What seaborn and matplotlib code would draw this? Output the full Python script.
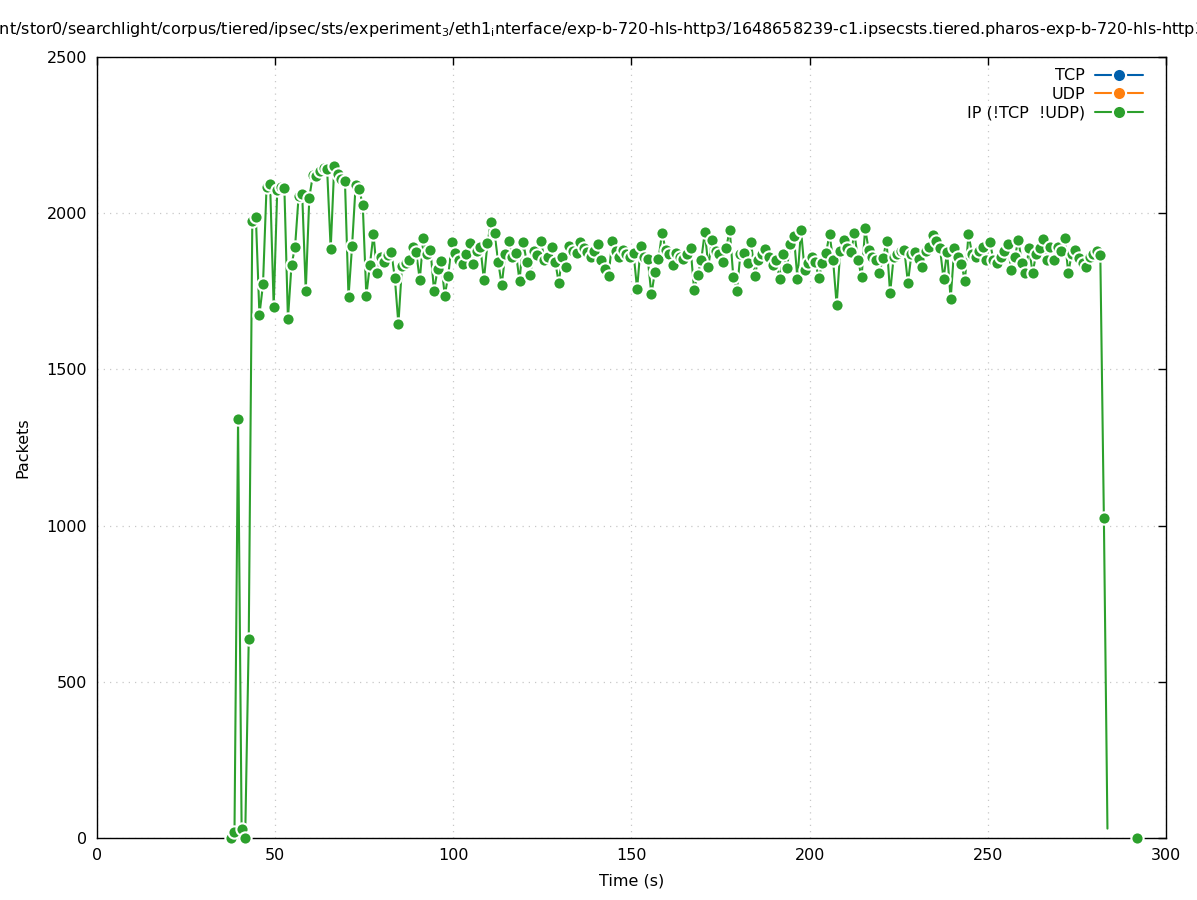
import numpy as np
import pandas as pd
import matplotlib
matplotlib.use("Agg")
import matplotlib.pyplot as plt
import seaborn as sns
from matplotlib.lines import Line2D

# sampled once per second, first sample at t = 37.6 s
t_start = 37.6
ip_packets = [
    0, 20, 1340, 30, 0, 637, 1975, 1987, 1675, 1772,
    2085, 2093, 1700, 2075, 2085, 2080, 1661, 1834, 1892, 2055,
    2061, 1751, 2050, 2122, 2118, 2135, 2144, 2140, 1885, 2152,
    2125, 2110, 2103, 1732, 1895, 2090, 2077, 2026, 1736, 1834,
    1933, 1808, 1860, 1845, 1865, 1876, 1793, 1645, 1830, 1840,
    1850, 1893, 1875, 1786, 1920, 1870, 1882, 1752, 1820, 1847,
    1736, 1800, 1907, 1872, 1850, 1836, 1870, 1905, 1838, 1880,
    1893, 1786, 1904, 1973, 1935, 1845, 1770, 1870, 1912, 1860,
    1871, 1783, 1909, 1845, 1802, 1880, 1866, 1912, 1850, 1860,
    1893, 1845, 1778, 1860, 1827, 1895, 1880, 1871, 1909, 1890,
    1875, 1860, 1880, 1901, 1850, 1820, 1799, 1912, 1880, 1860,
    1882, 1870, 1860, 1871, 1757, 1895, 1860, 1852, 1740, 1812,
    1852, 1938, 1882, 1870, 1834, 1871, 1860, 1852, 1870, 1889,
    1754, 1802, 1850, 1940, 1829, 1914, 1880, 1870, 1845, 1890,
    1946, 1795, 1752, 1870, 1871, 1839, 1909, 1799, 1850, 1870,
    1884, 1860, 1834, 1850, 1789, 1869, 1823, 1900, 1927, 1789,
    1946, 1818, 1840, 1860, 1845, 1791, 1841, 1871, 1933, 1850,
    1706, 1880, 1914, 1890, 1877, 1935, 1850, 1795, 1951, 1882,
    1860, 1850, 1809, 1855, 1912, 1743, 1860, 1870, 1880, 1882,
    1777, 1870, 1877, 1852, 1829, 1880, 1893, 1930, 1910, 1888,
    1789, 1877, 1724, 1888, 1860, 1838, 1783, 1933, 1870, 1860,
    1880, 1893, 1850, 1909, 1850, 1840, 1861, 1880, 1901, 1818,
    1860, 1914, 1840, 1810, 1888, 1809, 1870, 1890, 1917, 1850,
    1893, 1850, 1893, 1880, 1922, 1809, 1870, 1882, 1855, 1840,
    1829, 1860, 1870, 1880, 1866, 1024, 30,
]
# isolated last sample after a gap
tail_time = [291.9]
tail_packets = [0]

tcp_time, tcp_packets = [], []
udp_time, udp_packets = [], []

title = ("/mnt/stor0/searchlight/corpus/tiered/ipsec/sts/experiment$_3$/eth1$_\\mathrm{i}$nterface/"
         "exp-b-720-hls-http3/1648658239-c1.ipsecsts.tiered.pharos-exp-b-720-hls-http3.pcap")

colors = {"TCP": "#0060ad", "UDP": "#ff7f0e", "IP (!TCP  !UDP)": "#2ca02c"}

ip_time = np.round(t_start + np.arange(len(ip_packets)), 1)
line_df = pd.DataFrame({"time": ip_time, "packets": ip_packets})
# the last point of the run has no marker in the original
pts_df = pd.DataFrame({"time": list(ip_time[:-1]) + tail_time,
                       "packets": ip_packets[:-1] + tail_packets})

sns.set_style("white")
plt.rcParams["font.family"] = ["DejaVu Sans"]
fs = 11.5
plt.rcParams.update({"font.size": fs, "text.color": "black",
                     "axes.labelcolor": "black"})

fig = plt.figure(figsize=(11.97, 9.0), dpi=100)
ax = fig.add_axes([0.081, 0.0689, 0.893, 0.8678])

green = colors["IP (!TCP  !UDP)"]
sns.lineplot(data=line_df, x="time", y="packets", ax=ax, color=green,
             lw=1.5, sort=False, estimator=None, zorder=3)
sns.scatterplot(data=pts_df, x="time", y="packets", ax=ax, color=green,
                s=78, edgecolor="white", linewidth=1.5, zorder=4, clip_on=False)
ax.plot(tcp_time, tcp_packets, color=colors["TCP"])
ax.plot(udp_time, udp_packets, color=colors["UDP"])

ax.set_xlim(0, 300)
ax.set_ylim(0, 2500)
ax.set_xticks(range(0, 301, 50))
ax.set_yticks(range(0, 2501, 500))
ax.grid(True, color="#c8c8c8", linestyle=(0, (1, 4)), linewidth=0.9)
ax.tick_params(direction="in", length=6, width=1, top=True, right=True,
               colors="black", labelsize=fs, pad=7)
for sp in ax.spines.values():
    sp.set_color("black")
    sp.set_linewidth(1)
ax.set_xlabel("Time (s)", fontsize=fs, labelpad=8)
ax.set_ylabel("Packets", fontsize=fs, labelpad=12)

handles = [Line2D([], [], color=c, lw=1.5, marker="o", markersize=9.5,
                  markerfacecolor=c, markeredgecolor="white", markeredgewidth=1.5)
           for c in colors.values()]
ax.legend(handles, list(colors.keys()), loc="upper right", frameon=False,
          bbox_to_anchor=(1 - 12 / 1069, 1.0),
          markerfirst=False, handlelength=3.0, numpoints=1, fontsize=fs,
          borderaxespad=0.3, labelspacing=0.22, handletextpad=0.6)

# title overflows the canvas on both sides, as in the original
fig.text(-22 / 1197, 0.967, title, ha="left", va="center", fontsize=fs)

fig.savefig("out.png", dpi=100)
